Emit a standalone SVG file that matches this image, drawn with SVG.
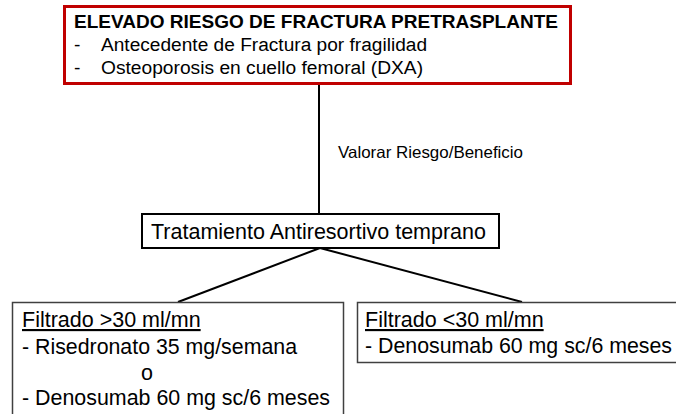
<svg xmlns="http://www.w3.org/2000/svg" width="676" height="414" viewBox="0 0 676 414">
<style>
text{font-family:"Liberation Sans",Arial,sans-serif;fill:#000}
.t{font-size:19.2px}
.b{font-size:21.5px}
.u{text-decoration:underline}
.box{fill:#fff}
</style>
<rect width="676" height="414" fill="#fff"/>
<g id="connectors" stroke="#000" stroke-width="2" fill="none">
<line x1="319" y1="85" x2="319" y2="214"/>
<line x1="320" y1="248" x2="178" y2="302"/>
<line x1="320" y1="248" x2="522" y2="302"/>
</g>
<g id="label">
<text x="338" y="158" font-size="16.5" textLength="185" lengthAdjust="spacingAndGlyphs">Valorar Riesgo/Beneficio</text>
</g>
<g id="risk">
<rect class="box" x="64.5" y="6.5" width="506" height="77" stroke="#C00000" stroke-width="3"/>
<text x="74" y="27.5" font-size="19" font-weight="bold" textLength="484" lengthAdjust="spacingAndGlyphs">ELEVADO RIESGO DE FRACTURA PRETRASPLANTE</text>
<text class="t" x="74" y="51">-</text>
<text class="t" x="101" y="51" textLength="326" lengthAdjust="spacingAndGlyphs">Antecedente de Fractura por fragilidad</text>
<text class="t" x="74" y="74">-</text>
<text class="t" x="101" y="74">Osteoporosis en cuello femoral (DXA)</text>
</g>
<g id="treatment">
<rect class="box" x="142" y="214" width="357" height="34" stroke="#000" stroke-width="2"/>
<text class="b" x="151" y="239" textLength="335" lengthAdjust="spacingAndGlyphs">Tratamiento Antiresortivo temprano</text>
</g>
<g id="gfr-high">
<rect class="box" x="12.5" y="302.5" width="331" height="130" stroke="#404040" stroke-width="1.5"/>
<text class="b u" x="22" y="327">Filtrado &gt;30 ml/mn</text>
<text class="b" x="22" y="354" textLength="275" lengthAdjust="spacingAndGlyphs">- Risedronato 35 mg/semana</text>
<text class="b" x="141" y="380">o</text>
<text class="b" x="22" y="405" textLength="308" lengthAdjust="spacingAndGlyphs">- Denosumab 60 mg sc/6 meses</text>
</g>
<g id="gfr-low">
<rect class="box" x="357.5" y="302.5" width="330" height="60" stroke="#404040" stroke-width="1.5"/>
<text class="b u" x="365" y="327">Filtrado &lt;30 ml/mn</text>
<text class="b" x="365" y="353" textLength="307" lengthAdjust="spacingAndGlyphs">- Denosumab 60 mg sc/6 meses</text>
</g>
</svg>
